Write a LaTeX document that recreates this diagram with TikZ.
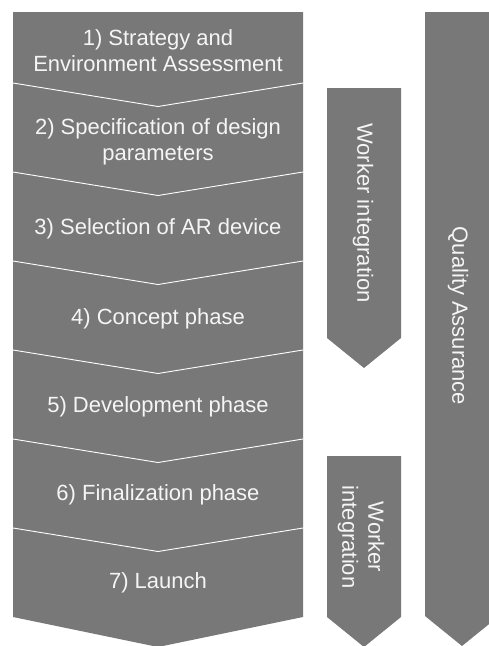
\documentclass[tikz,border=0pt]{standalone}
\usepackage{fontspec}
\setmainfont{Liberation Sans}
\definecolor{boxgray}{RGB}{120,120,120}
\definecolor{txt}{RGB}{245,245,245}
\begin{document}
\begin{tikzpicture}[x=1pt,y=-1pt,
  shapefill/.style={fill=boxgray,draw=none},
  sepline/.style={draw=white,line width=0.9pt},
  lbl/.style={text=txt,font=\fontsize{22}{26}\selectfont,align=center,inner sep=0pt},
  vlbl/.style={lbl,rotate=-90}]
\useasboundingbox (0,0) rectangle (489,646);
\clip (0,0) rectangle (489,646);
% main chevron column
\path[shapefill] (13,12) -- (303,12) -- (303,617) -- (158,647) -- (13,617) -- cycle;
\foreach \y in {83,172,261,350,439,528}
  \draw[sepline] (13,\y) -- (158,\y+23.5) -- (303,\y);
% worker integration arrows
\path[shapefill] (327,88) -- (401,88) -- (401,338) -- (364,368) -- (327,338) -- cycle;
\path[shapefill] (327,456) -- (401,456) -- (401,617) -- (364,647) -- (327,617) -- cycle;
% quality assurance
\path[shapefill] (425,12) -- (499,12) -- (499,616) -- (462,646) -- (425,616) -- cycle;
% labels
\node[lbl] (s1) at (158,51) {1) Strategy and\\Environment Assessment};
\node[lbl] (s2) at (158,142) {2) Specification of design\\parameters};
\node[lbl] (s3) at (158,228.5) {3) Selection of AR device};
\node[lbl] (s4) at (158,318.5) {4) Concept phase};
\node[lbl] (s5) at (158,406.5) {5) Development phase};
\node[lbl] (s6) at (158,494.5) {6) Finalization phase};
\node[lbl] (s7) at (158,582.5) {7) Launch};
\node[vlbl] (w1) at (363,213) {Worker integration};
\node[vlbl] (w2) at (361,537) {Worker\\integration};
\node[vlbl] (qa) at (458,316) {Quality Assurance};
\end{tikzpicture}
\end{document}
